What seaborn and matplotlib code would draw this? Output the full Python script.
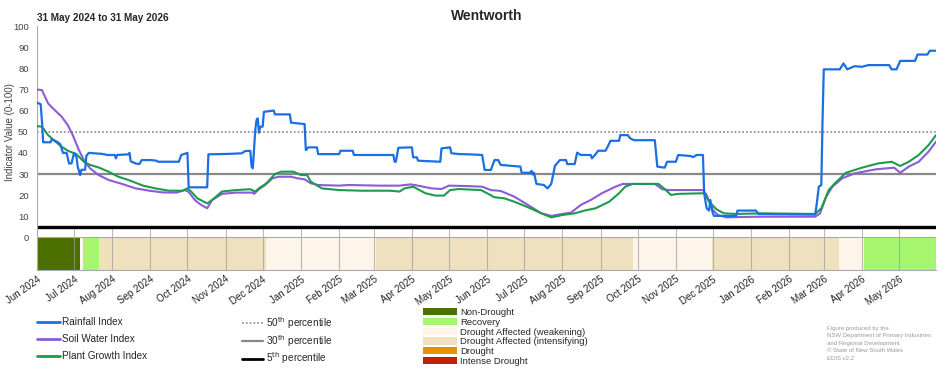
import numpy as np
import pandas as pd
import seaborn as sns
import matplotlib.pyplot as plt
import matplotlib.transforms as mtransforms
from matplotlib.lines import Line2D
from matplotlib.patches import Patch

# ---- data ----
rain_dates = ["2024-05-31", "2024-06-04", "2024-06-05", "2024-06-06", "2024-06-12", "2024-06-13",
              "2024-06-18", "2024-06-20", "2024-06-22", "2024-06-25", "2024-06-27", "2024-06-29",
              "2024-07-01", "2024-07-03", "2024-07-04", "2024-07-06", "2024-07-07", "2024-07-10",
              "2024-07-11", "2024-07-13", "2024-07-24", "2024-07-28", "2024-08-03", "2024-08-04",
              "2024-08-05", "2024-08-14", "2024-08-15", "2024-08-16", "2024-08-20", "2024-08-23",
              "2024-08-25", "2024-09-01", "2024-09-06", "2024-09-07", "2024-09-24", "2024-09-26",
              "2024-10-01", "2024-10-02", "2024-10-17", "2024-10-18", "2024-11-03", "2024-11-14",
              "2024-11-17", "2024-11-21", "2024-11-22", "2024-11-23", "2024-11-25", "2024-11-26",
              "2024-11-27", "2024-11-28", "2024-11-29", "2024-12-01", "2024-12-02", "2024-12-10",
              "2024-12-11", "2024-12-23", "2024-12-24", "2025-01-04", "2025-01-05", "2025-01-07",
              "2025-01-14", "2025-01-15", "2025-02-01", "2025-02-02", "2025-02-12", "2025-02-13",
              "2025-03-17", "2025-03-18", "2025-03-19", "2025-03-21", "2025-04-01", "2025-04-02",
              "2025-04-05", "2025-04-06", "2025-04-24", "2025-04-25", "2025-05-02", "2025-05-03",
              "2025-05-10", "2025-05-18", "2025-05-28", "2025-05-30", "2025-06-04", "2025-06-07",
              "2025-06-10", "2025-06-12", "2025-06-28", "2025-06-29", "2025-07-06", "2025-07-07",
              "2025-07-08", "2025-07-09", "2025-07-11", "2025-07-17", "2025-07-20", "2025-07-23",
              "2025-07-26", "2025-07-30", "2025-08-04", "2025-08-05", "2025-08-11", "2025-08-13",
              "2025-08-16", "2025-08-24", "2025-08-25", "2025-08-28", "2025-08-30", "2025-09-05",
              "2025-09-07", "2025-09-09", "2025-09-16", "2025-09-17", "2025-09-23", "2025-09-25",
              "2025-09-28", "2025-10-15", "2025-10-17", "2025-10-23", "2025-10-25", "2025-11-01",
              "2025-11-03", "2025-11-13", "2025-11-15", "2025-11-18", "2025-11-23", "2025-11-24",
              "2025-11-26", "2025-11-28", "2025-11-29", "2025-12-01", "2025-12-02", "2025-12-20",
              "2025-12-21", "2026-01-05", "2026-01-07", "2026-02-22", "2026-02-23", "2026-02-25",
              "2026-02-27", "2026-02-28", "2026-03-01", "2026-03-14", "2026-03-17", "2026-03-20",
              "2026-03-22", "2026-03-26", "2026-04-01", "2026-04-06", "2026-04-23", "2026-04-25",
              "2026-04-29", "2026-05-02", "2026-05-14", "2026-05-16", "2026-05-24", "2026-05-26",
              "2026-05-31"]
rain_vals = [64, 63, 55, 45, 45, 46.5,
             45, 44, 40, 40, 35, 35,
             40, 38, 33.5, 29.5, 32, 32,
             38.5, 40, 39.5, 39, 39, 37.4,
             39, 39.3, 40, 36, 35, 34.7,
             36.6, 36.6, 36.3, 35.8, 35.8, 39,
             40, 23.7, 23.7, 39.3, 39.5, 39.8,
             40.9, 40.9, 33.5, 32.7, 50.8, 55.5,
             56.3, 49.5, 52.4, 52.4, 59.4, 60,
             58.2, 58.2, 54.3, 53.6, 41.3, 42.6,
             42.6, 39.4, 39.4, 41, 41, 39,
             39, 35.8, 35.8, 42.4, 42.6, 37.9,
             37.9, 36.3, 35.8, 42.1, 42.6, 39.8,
             39.4, 39.3, 39, 31.9, 31.9, 36.6,
             36.6, 34.3, 33.5, 30.6, 30.6, 31.5,
             29.8, 30.6, 25.3, 24.8, 23.2, 25.3,
             33.9, 36.6, 36.6, 34.7, 34.7, 40.1,
             39, 39, 37.4, 39.4, 41, 41,
             43.2, 45.7, 45.7, 48.4, 48.4, 46.9,
             46, 46, 33.5, 33, 35.8, 35.8,
             39, 38.5, 38, 39, 39, 20.9,
             13.8, 12.7, 17.7, 11.4, 10.2, 10.2,
             12.7, 12.7, 11.1, 10.8, 14.6, 24,
             24.8, 55.5, 79.5, 79.5, 82.3, 79.5,
             80, 81, 80.7, 81.5, 81.5, 79.5,
             79.5, 83.5, 83.5, 86.5, 86.5, 88.3,
             88.3]

soil_dates = ["2024-05-31", "2024-06-05", "2024-06-10", "2024-06-14", "2024-06-21", "2024-06-26",
              "2024-06-30", "2024-07-05", "2024-07-09", "2024-07-14", "2024-07-21", "2024-07-29",
              "2024-08-09", "2024-08-20", "2024-08-31", "2024-09-11", "2024-09-22", "2024-09-29",
              "2024-10-02", "2024-10-07", "2024-10-12", "2024-10-17", "2024-10-21", "2024-10-29",
              "2024-11-09", "2024-11-23", "2024-11-24", "2024-11-28", "2024-12-03", "2024-12-09",
              "2024-12-14", "2024-12-24", "2024-12-29", "2025-01-04", "2025-01-09", "2025-01-15",
              "2025-02-01", "2025-02-09", "2025-03-05", "2025-03-22", "2025-03-31", "2025-04-06",
              "2025-04-17", "2025-04-25", "2025-05-01", "2025-05-16", "2025-05-28", "2025-06-04",
              "2025-06-12", "2025-06-23", "2025-07-04", "2025-07-15", "2025-07-23", "2025-08-01",
              "2025-08-08", "2025-08-16", "2025-08-24", "2025-09-02", "2025-09-13", "2025-09-19",
              "2025-10-15", "2025-10-21", "2025-10-26", "2025-11-23", "2025-11-26", "2025-12-01",
              "2025-12-05", "2025-12-12", "2026-01-05", "2026-02-22", "2026-02-26", "2026-03-03",
              "2026-03-08", "2026-03-16", "2026-03-26", "2026-04-12", "2026-04-27", "2026-05-02",
              "2026-05-09", "2026-05-17", "2026-05-25", "2026-05-31"]
soil_vals = [70, 69.7, 63.4, 61, 57.1, 53.1,
             48.4, 41.3, 36.6, 32.7, 29.5, 27.2,
             25.3, 23.2, 22.1, 21.3, 21.2, 22.4,
             21.5, 17.7, 15.4, 13.8, 17.7, 20.6,
             21.2, 21.2, 20.6, 22.8, 24.8, 28,
             28.7, 28.7, 28, 27.5, 25.6, 24.8,
             24.5, 24.8, 24.5, 24.5, 25.1, 24.5,
             23.2, 22.9, 24.5, 24.3, 24, 22.4,
             22, 19.3, 15.4, 11.4, 10.2, 11.1,
             11.7, 15.4, 17.7, 20.9, 24, 25.3,
             25.3, 22.8, 22.4, 22.4, 20.1, 13,
             10.6, 9.5, 9.8, 9.8, 11.4, 19.3,
             24, 28, 30.3, 32.2, 33, 30.6,
             33.5, 35.8, 40.6, 45.3]

plant_dates = ["2024-05-31", "2024-06-05", "2024-06-10", "2024-06-16", "2024-06-21", "2024-06-26",
               "2024-07-03", "2024-07-09", "2024-07-14", "2024-07-21", "2024-07-29", "2024-08-06",
               "2024-08-14", "2024-08-26", "2024-09-05", "2024-09-16", "2024-09-27", "2024-10-01",
               "2024-10-04", "2024-10-09", "2024-10-17", "2024-10-21", "2024-10-29", "2024-11-09",
               "2024-11-21", "2024-11-25", "2024-11-28", "2024-12-04", "2024-12-11", "2024-12-16",
               "2024-12-26", "2025-01-01", "2025-01-06", "2025-01-09", "2025-01-18", "2025-02-01",
               "2025-02-20", "2025-03-14", "2025-03-22", "2025-03-26", "2025-04-02", "2025-04-12",
               "2025-04-20", "2025-04-27", "2025-05-02", "2025-05-09", "2025-05-27", "2025-06-02",
               "2025-06-07", "2025-06-15", "2025-06-23", "2025-07-04", "2025-07-15", "2025-07-23",
               "2025-08-01", "2025-08-11", "2025-08-19", "2025-08-28", "2025-09-08", "2025-09-16",
               "2025-09-21", "2025-09-27", "2025-10-18", "2025-10-24", "2025-10-28", "2025-11-03",
               "2025-11-24", "2025-11-28", "2025-12-04", "2025-12-10", "2025-12-20", "2026-01-10",
               "2026-02-22", "2026-02-27", "2026-03-05", "2026-03-10", "2026-03-19", "2026-04-01",
               "2026-04-14", "2026-04-25", "2026-05-02", "2026-05-09", "2026-05-17", "2026-05-25",
               "2026-05-31"]
plant_vals = [52.7, 52.4, 48.4, 45.3, 42.9, 41,
              39.4, 35.8, 34.3, 33.1, 31.1, 28.7,
              27.2, 24.5, 23.2, 22.1, 22.1, 23.2,
              21.7, 18.5, 16.1, 17.7, 21.7, 22.4,
              22.8, 21.7, 23.2, 25.6, 30, 31.1,
              31.1, 29.5, 29.5, 26.4, 23.2, 22.4,
              22.1, 22.1, 21.7, 23.2, 24, 20.9,
              19.8, 19.8, 22.4, 22.9, 22.4, 20.6,
              19, 18.5, 16.9, 14.3, 11.4, 9.5,
              10.6, 11.4, 12.7, 13.8, 16.9, 20.9,
              24, 25.3, 25.3, 22.4, 20.1, 20.6,
              20.9, 16.9, 13.3, 11.4, 11.1, 11.4,
              11.1, 13.8, 22.4, 25.6, 30.6, 33,
              35, 35.8, 33.8, 35.8, 39, 43.7,
              48.4]

band_start = ["2024-05-31", "2024-07-06", "2024-07-08", "2024-07-21", "2024-12-04",
              "2025-03-03", "2025-09-27", "2025-11-30", "2026-03-13", "2026-04-03"]
band_end = ["2024-07-06", "2024-07-08", "2024-07-21", "2024-12-04", "2025-03-03",
            "2025-09-27", "2025-11-30", "2026-03-13", "2026-04-03", "2026-05-31"]
band_class = ["Non-Drought", "Drought Affected (weakening)", "Recovery",
              "Drought Affected (intensifying)", "Drought Affected (weakening)",
              "Drought Affected (intensifying)", "Drought Affected (weakening)",
              "Drought Affected (intensifying)", "Drought Affected (weakening)", "Recovery"]

class_names = ["Non-Drought", "Recovery", "Drought Affected (weakening)",
               "Drought Affected (intensifying)", "Drought", "Intense Drought"]
class_colors = ["#4b7000", "#a6f76f", "#fdf5e9", "#efe1bf", "#e39400", "#bb2200"]

percentiles = [50, 30, 5]
month_ticks = pd.date_range("2024-06-01", "2026-05-01", freq="MS")

c_rain, c_soil, c_plant = "#1b6fe4", "#8c5bd8", "#1c9b4c"

# ---- plot ----
sns.set_style("white")
plt.rcParams['font.family'] = ['Liberation Sans', 'DejaVu Sans']

fig = plt.figure(figsize=(9.52, 3.70), dpi=100)
ax = fig.add_axes([37 / 952, 1 - 270 / 370, 899 / 952, 244 / 370])
band_bottom = -15.4

colmap = dict(zip(class_names, class_colors))
for s, e, c in zip(band_start, band_end, band_class):
    ax.fill_between(pd.to_datetime([s, e]), band_bottom, 0, color=colmap[c], lw=0, zorder=1)

ax.vlines(month_ticks, band_bottom, 5, color="#9a9a9a", lw=0.8, alpha=0.7, zorder=2)
ax.axhline(0, color="#aaaaaa", lw=0.8, zorder=2)
ax.axvline(pd.Timestamp("2026-05-31"), ymin=0, ymax=-band_bottom / (100 - band_bottom),
           color="#aaaaaa", lw=0.8, zorder=2)

ax.axhline(percentiles[0], color="#858585", lw=1.2, ls=(0, (1, 1.3)), zorder=2)
ax.axhline(percentiles[1], color="#888888", lw=1.6, zorder=2)
ax.axhline(percentiles[2], color="black", lw=2.4, zorder=2)

sns.lineplot(x=pd.to_datetime(soil_dates), y=soil_vals, ax=ax, color=c_soil, lw=1.5,
             estimator=None, sort=False, zorder=4)
sns.lineplot(x=pd.to_datetime(plant_dates), y=plant_vals, ax=ax, color=c_plant, lw=1.5,
             estimator=None, sort=False, zorder=5)
sns.lineplot(x=pd.to_datetime(rain_dates), y=rain_vals, ax=ax, color=c_rain, lw=1.6,
             estimator=None, sort=False, zorder=6)

ax.set_xlim(pd.Timestamp("2024-06-01"), pd.Timestamp("2026-05-31"))
ax.set_ylim(band_bottom, 100)
ax.set_yticks(range(0, 101, 10))
ax.set_xticks(month_ticks)
ax.set_xticklabels([d.strftime("%b %Y") for d in month_ticks], rotation=35, ha="right",
                   rotation_mode="anchor", fontsize=7, color="#222222")
offset = mtransforms.ScaledTranslation(6 / 100, -2 / 100, fig.dpi_scale_trans)
for lbl in ax.get_xticklabels():
    lbl.set_transform(lbl.get_transform() + offset)
ax.tick_params(axis="y", labelsize=6.8, labelcolor="#444444", color="#999999",
               length=4, width=0.8, direction="out", pad=2)
ax.tick_params(axis="x", length=0, pad=3)
ax.set_xlabel("")
ax.set_ylabel("Indicator Value (0-100)", fontsize=7, color="#444444")
ax.yaxis.set_label_coords(-0.0245, (50 - band_bottom) / (100 - band_bottom))

for side in ["top", "right"]:
    ax.spines[side].set_visible(False)
for side in ["left", "bottom"]:
    ax.spines[side].set_color("#aaaaaa")
    ax.spines[side].set_linewidth(0.8)

fig.text(487 / 952, 1 - 16 / 370, "Wentworth", ha="center", va="center",
         fontsize=10, fontweight="bold")
fig.text(37 / 952, 1 - 18 / 370, "31 May 2024 to 31 May 2026", ha="left", va="center",
         fontsize=7.2, fontweight="bold")

# legends
idx_handles = [Line2D([0], [0], color=c, lw=2) for c in [c_rain, c_soil, c_plant]]
fig.legend(idx_handles, ["Rainfall Index", "Soil Water Index", "Plant Growth Index"],
           loc="upper left", bbox_to_anchor=(37 / 952, 1 - 317 / 370), frameon=False,
           fontsize=7.2, handlelength=2.3, handletextpad=0.25, labelspacing=0.72,
           borderpad=0, borderaxespad=0)

pct_handles = [Line2D([0], [0], color="#858585", lw=1.2, ls=(0, (1, 1.3))),
               Line2D([0], [0], color="#888888", lw=1.6),
               Line2D([0], [0], color="black", lw=2)]
fig.legend(pct_handles, ["50$^{\\mathrm{th}}$ percentile", "30$^{\\mathrm{th}}$ percentile",
                         "5$^{\\mathrm{th}}$ percentile"],
           loc="upper left", bbox_to_anchor=(242 / 952, 1 - 315 / 370), frameon=False,
           fontsize=7.2, handlelength=2.1, handletextpad=0.3, labelspacing=0.2,
           borderpad=0, borderaxespad=0)

cls_handles = [Patch(facecolor=c, edgecolor="none") for c in class_colors]
fig.legend(cls_handles, class_names, loc="upper left", bbox_to_anchor=(423 / 952, 1 - 308 / 370),
           frameon=False, fontsize=6.8, handlelength=3.6, handleheight=0.8,
           handletextpad=0.3, labelspacing=0.08, borderpad=0, borderaxespad=0)

fig.text(827 / 952, 1 - 326 / 370,
         "Figure produced by the\nNSW Department of Primary Industries\nand Regional Development\n"
         "\u00a9 State of New South Wales\nEDIS v2.2",
         ha="left", va="top", fontsize=4.3, color="#999999", linespacing=1.6)

fig.savefig("out.png", dpi=100)
